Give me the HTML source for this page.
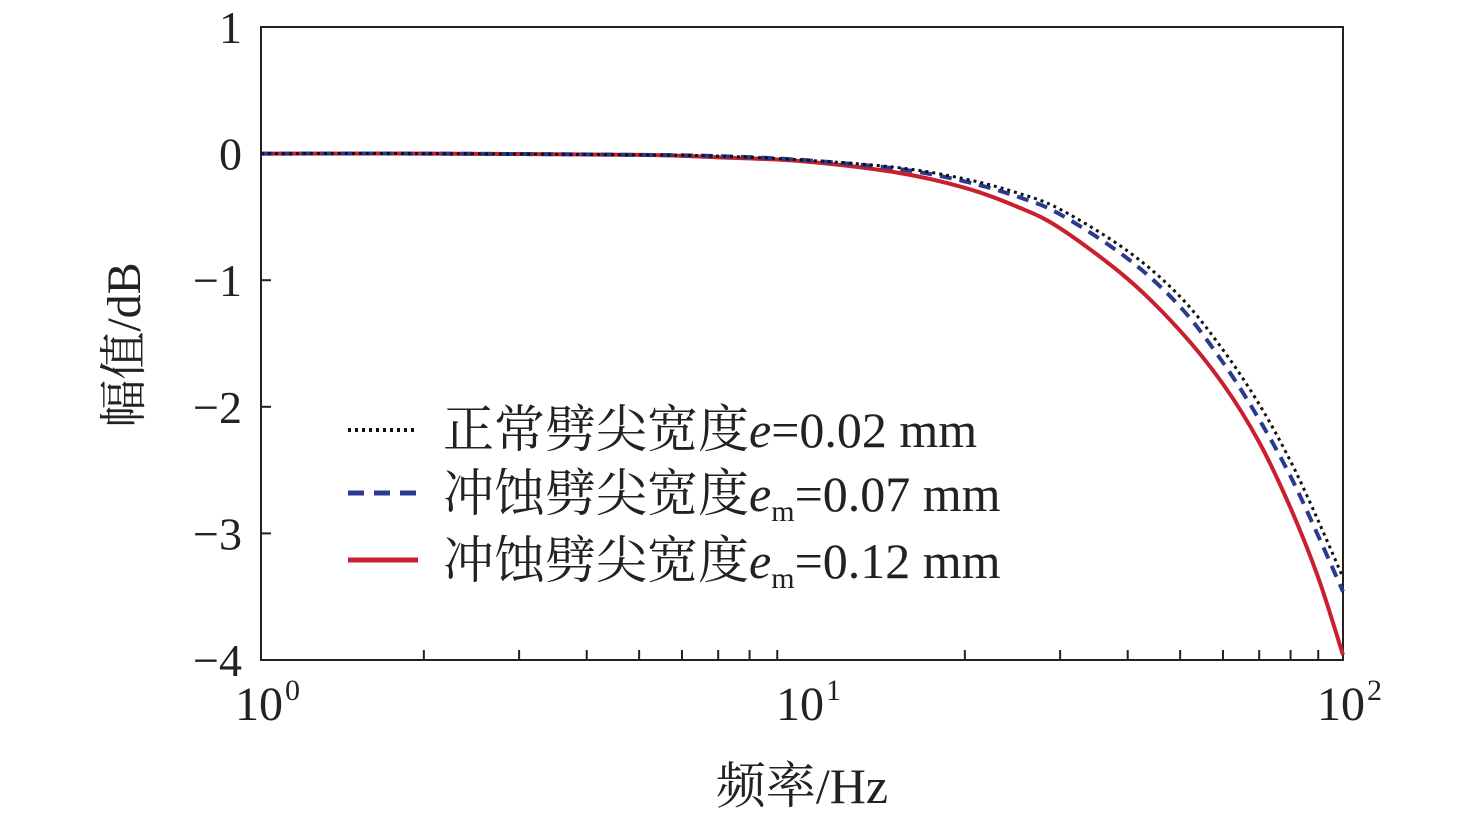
<!DOCTYPE html>
<html><head><meta charset="utf-8"><style>
body{margin:0;background:#fff}
svg text{font-family:"Liberation Serif","Noto Serif CJK SC",serif;fill:#222}
</style></head><body>
<svg width="1476" height="819" viewBox="0 0 1476 819" id="c"></svg>
<script>
const freqs=[1,2,5,7,10,15,20,25,30,40,50,60,70,80,90,100];
const normalDB=[0,0,-0.01,-0.02,-0.05,-0.11,-0.2,-0.31,-0.44,-0.77,-1.13,-1.55,-1.98,-2.43,-2.9,-3.35];
const erodedA=[0,0,-0.01,-0.02,-0.05,-0.12,-0.22,-0.34,-0.48,-0.83,-1.21,-1.65,-2.1,-2.55,-3.02,-3.46];
const erodedB=[0,0,-0.01,-0.03,-0.06,-0.15,-0.27,-0.42,-0.59,-0.99,-1.4,-1.82,-2.28,-2.8,-3.35,-3.96];
const yTicks=[1,0,-1,-2,-3,-4];
const xDecades=[0,1,2];
const L=261,R=1343,T=27,B=660;
const X=f=>L+(Math.log10(f))/2*(R-L);
const Y=v=>T+(1-v)/5*(B-T);
const s=document.getElementById('c');const NS='http://www.w3.org/2000/svg';
function el(t,a,txt){const e=document.createElementNS(NS,t);for(const k in a)e.setAttribute(k,a[k]);if(txt!==undefined)e.textContent=txt;s.appendChild(e);return e;}
let e=el('rect',{x:L,y:T,width:R-L,height:B-T,fill:'none',stroke:'#222','stroke-width':2});


yTicks.forEach(v=>{
 let t=el('line',{x1:L,x2:L+10,y1:Y(v),y2:Y(v),stroke:'#222','stroke-width':2});
 
 
 let lb=el('text',{x:242,y:Y(v)+16,'text-anchor':'end','font-size':46},v<0?'\u2212'+(-v):String(v));
 
 
});
for(let d=0;d<2;d++)for(let m=2;m<=9;m++){
 let f=m*Math.pow(10,d);
 let t=el('line',{x1:X(f),x2:X(f),y1:B,y2:B-10,stroke:'#222','stroke-width':2});
 
 
}
xDecades.forEach(d=>{
 let g=el('text',{x:X(Math.pow(10,d))+22,y:720,'text-anchor':'end','font-size':48},'10');
 
 
 let sp=el('text',{x:X(Math.pow(10,d))+24,y:700,'font-size':30},String(d));
 
 
});
function path(vals){
 const p=freqs.map((f,i)=>[X(f),Y(vals[i])]);
 let d='M'+p[0][0]+','+p[0][1];
 for(let i=0;i<p.length-1;i++){
  const p0=p[Math.max(i-1,0)],p1=p[i],p2=p[i+1],p3=p[Math.min(i+2,p.length-1)];
  const c1=[p1[0]+(p2[0]-p0[0])/6,p1[1]+(p2[1]-p0[1])/6],c2=[p2[0]-(p3[0]-p1[0])/6,p2[1]-(p3[1]-p1[1])/6];
  d+=` C${c1[0]},${c1[1]} ${c2[0]},${c2[1]} ${p2[0]},${p2[1]}`;
 }
 return d;
}
let l3=el('path',{d:path(erodedB),fill:'none',stroke:'#c8202e','stroke-width':4});


let l2=el('path',{d:path(erodedA),fill:'none',stroke:'#2a3a8f','stroke-width':4,'stroke-dasharray':'12 8'});


let l1=el('path',{d:path(normalDB),fill:'none',stroke:'#111','stroke-width':3,'stroke-dasharray':'3 4'});


</script>
<svg style="position:absolute;left:0;top:0" width="1476" height="819">
<g>
<line x1="348" x2="418" y1="430" y2="430" stroke="#111" stroke-width="4" stroke-dasharray="3 4"/>
<text x="443" y="447" font-size="50"><tspan font-size="51">正常劈尖宽度</tspan><tspan font-style="italic">e</tspan>=0.02 mm</text>
<line x1="348" x2="418" y1="493" y2="493" stroke="#2a3a8f" stroke-width="5" stroke-dasharray="16 10"/>
<text x="443" y="511" font-size="50"><tspan font-size="51">冲蚀劈尖宽度</tspan><tspan font-style="italic">e</tspan><tspan font-size="30" dy="10">m</tspan><tspan dy="-10">=0.07 mm</tspan></text>
<line x1="348" x2="418" y1="560" y2="560" stroke="#c8202e" stroke-width="5"/>
<text x="443" y="578" font-size="50"><tspan font-size="51">冲蚀劈尖宽度</tspan><tspan font-style="italic">e</tspan><tspan font-size="30" dy="10">m</tspan><tspan dy="-10">=0.12 mm</tspan></text>
</g>
<text x="802" y="803" text-anchor="middle" font-size="50">频率/Hz</text>
<text transform="translate(140,345) rotate(-90)" text-anchor="middle" font-size="48">幅值/dB</text>
</svg>
</body></html>
